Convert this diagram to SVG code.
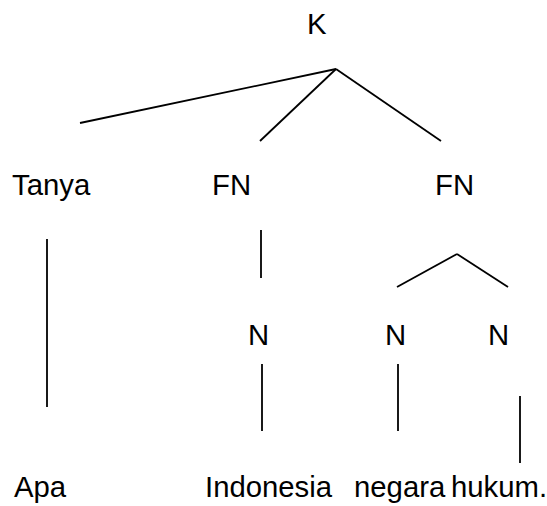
<svg xmlns="http://www.w3.org/2000/svg" width="547" height="506" viewBox="0 0 547 506">
  <style>
    .lbl { font-family: "Liberation Sans", Arial, sans-serif; font-size: 29.3px; fill: #000; }
    .edge { stroke: #000; stroke-width: 1.8; fill: none; stroke-linecap: butt; }
  </style>
  <rect width="547" height="506" fill="#fff"/>

  <!-- connectors -->
  <g id="connectors">
    <line class="edge" x1="336" y1="69" x2="80" y2="123"/>
    <line class="edge" x1="336" y1="69" x2="260" y2="141"/>
    <line class="edge" x1="336" y1="69" x2="441" y2="141"/>
    <line class="edge" x1="47" y1="239" x2="47" y2="407"/>
    <line class="edge" x1="261" y1="230" x2="261" y2="278"/>
    <line class="edge" x1="457" y1="254" x2="397" y2="287"/>
    <line class="edge" x1="457" y1="254" x2="508" y2="287"/>
    <line class="edge" x1="262" y1="364" x2="262" y2="431"/>
    <line class="edge" x1="398" y1="364" x2="398" y2="431"/>
    <line class="edge" x1="520" y1="396" x2="520" y2="463"/>
  </g>

  <!-- nodes -->
  <g id="node-k"><text class="lbl" x="307" y="34">K</text></g>
  <g id="node-tanya"><text class="lbl" x="12" y="195">Tanya</text></g>
  <g id="node-fn1"><text class="lbl" x="212" y="195">FN</text></g>
  <g id="node-fn2"><text class="lbl" x="435" y="195">FN</text></g>
  <g id="node-n1"><text class="lbl" x="248" y="345">N</text></g>
  <g id="node-n2"><text class="lbl" x="385" y="345">N</text></g>
  <g id="node-n3"><text class="lbl" x="488" y="345">N</text></g>
  <g id="node-apa"><text class="lbl" x="14" y="497">Apa</text></g>
  <g id="node-indonesia"><text class="lbl" x="205" y="497">Indonesia</text></g>
  <g id="node-negara"><text class="lbl" x="354" y="497">negara</text></g>
  <g id="node-hukum"><text class="lbl" x="451" y="497">hukum.</text></g>
</svg>
